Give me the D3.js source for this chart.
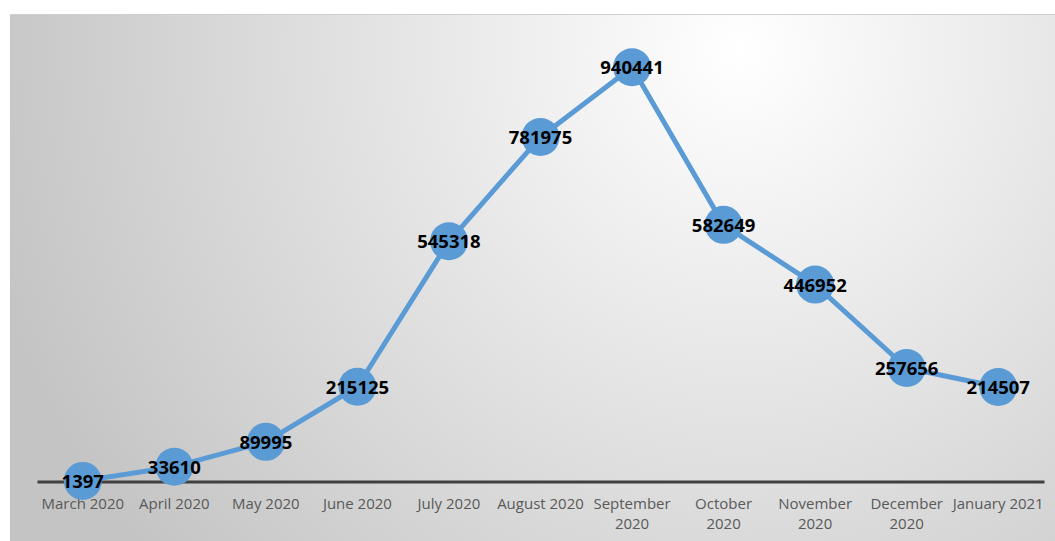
<!DOCTYPE html>
<html>
<head>
<meta charset="utf-8">
<script src="https://cdn.jsdelivr.net/npm/d3@7"></script>
<style>
  html, body { margin: 0; padding: 0; background: #ffffff; }
  svg { display: block; }
</style>
</head>
<body>
<svg id="chart" width="1055" height="541"></svg>
<script>
// Data
const months = ["March 2020", "April 2020", "May 2020", "June 2020", "July 2020", "August 2020",
    "September 2020", "October 2020", "November 2020", "December 2020", "January 2021"];
const tickLines = [["March 2020"], ["April 2020"], ["May 2020"], ["June 2020"], ["July 2020"], ["August 2020"],
    ["September", "2020"], ["October", "2020"], ["November", "2020"], ["December", "2020"], ["January 2021"]];
const cases = [1397, 33610, 89995, 215125, 545318, 781975, 940441, 582649, 446952, 257656, 214507];

const width = 1055;
const height = 541;
const margin = { top: 41, right: 11, bottom: 59, left: 37 };

const svg = d3.select("#chart");

// background gradient
const defs = svg.append("defs");
const grad = defs.append("radialGradient")
    .attr("id", "bg")
    .attr("gradientUnits", "userSpaceOnUse")
    .attr("cx", 740).attr("cy", 50).attr("r", 780);
grad.append("stop").attr("offset", "0%").attr("stop-color", "#ffffff");
grad.append("stop").attr("offset", "100%").attr("stop-color", "#c4c4c4");

svg.append("rect")
    .attr("x", 10).attr("y", 14)
    .attr("width", width - 10).attr("height", height - 14)
    .attr("fill", "url(#bg)");
svg.append("line")
    .attr("x1", 10).attr("x2", width)
    .attr("y1", 14.5).attr("y2", 14.5)
    .attr("stroke", "#cfcfcf").attr("stroke-width", 1);

const x = d3.scalePoint()
    .domain(months)
    .range([margin.left, width - margin.right])
    .padding(0.5);

const y = d3.scaleLinear()
    .domain([0, 1000000])
    .range([height - margin.bottom - 0.5, margin.top]);

// axis line
const xAxis = d3.axisBottom(x).tickSize(0).tickFormat("");
const gx = svg.append("g")
    .attr("transform", `translate(0,${y(0)})`)
    .call(xAxis);
gx.select(".domain").attr("stroke", "#404040").attr("stroke-width", 3);

// tick labels
const labels = svg.append("g")
    .attr("font-family", "'Open Sans', sans-serif")
    .attr("font-size", 15)
    .attr("fill", "#595959")
    .attr("text-anchor", "middle");
months.forEach((m, i) => {
    const t = labels.append("text")
        .attr("x", x(m))
        .attr("y", y(0) + 27);
    tickLines[i].forEach((ln, j) => {
        t.append("tspan")
            .attr("x", x(m))
            .attr("dy", j === 0 ? 0 : 20)
            .text(ln);
    });
});

// line
const line = d3.line()
    .x((d, i) => x(months[i]))
    .y((d) => y(d));

svg.append("path")
    .datum(cases)
    .attr("fill", "none")
    .attr("stroke", "#5b9bd5")
    .attr("stroke-width", 5)
    .attr("stroke-linejoin", "round")
    .attr("d", line);

// markers
svg.append("g")
    .selectAll("circle")
    .data(cases)
    .join("circle")
    .attr("cx", (d, i) => x(months[i]))
    .attr("cy", (d) => y(d))
    .attr("r", 19)
    .attr("fill", "#5b9bd5");

// value labels
svg.append("g")
    .attr("font-family", "'Open Sans', sans-serif")
    .attr("font-weight", "bold")
    .attr("font-size", 18.5)
    .attr("fill", "#000000")
    .attr("text-anchor", "middle")
    .selectAll("text")
    .data(cases)
    .join("text")
    .attr("x", (d, i) => x(months[i]))
    .attr("y", (d) => y(d) + 7)
    .text((d) => d);
</script>
</body>
</html>
